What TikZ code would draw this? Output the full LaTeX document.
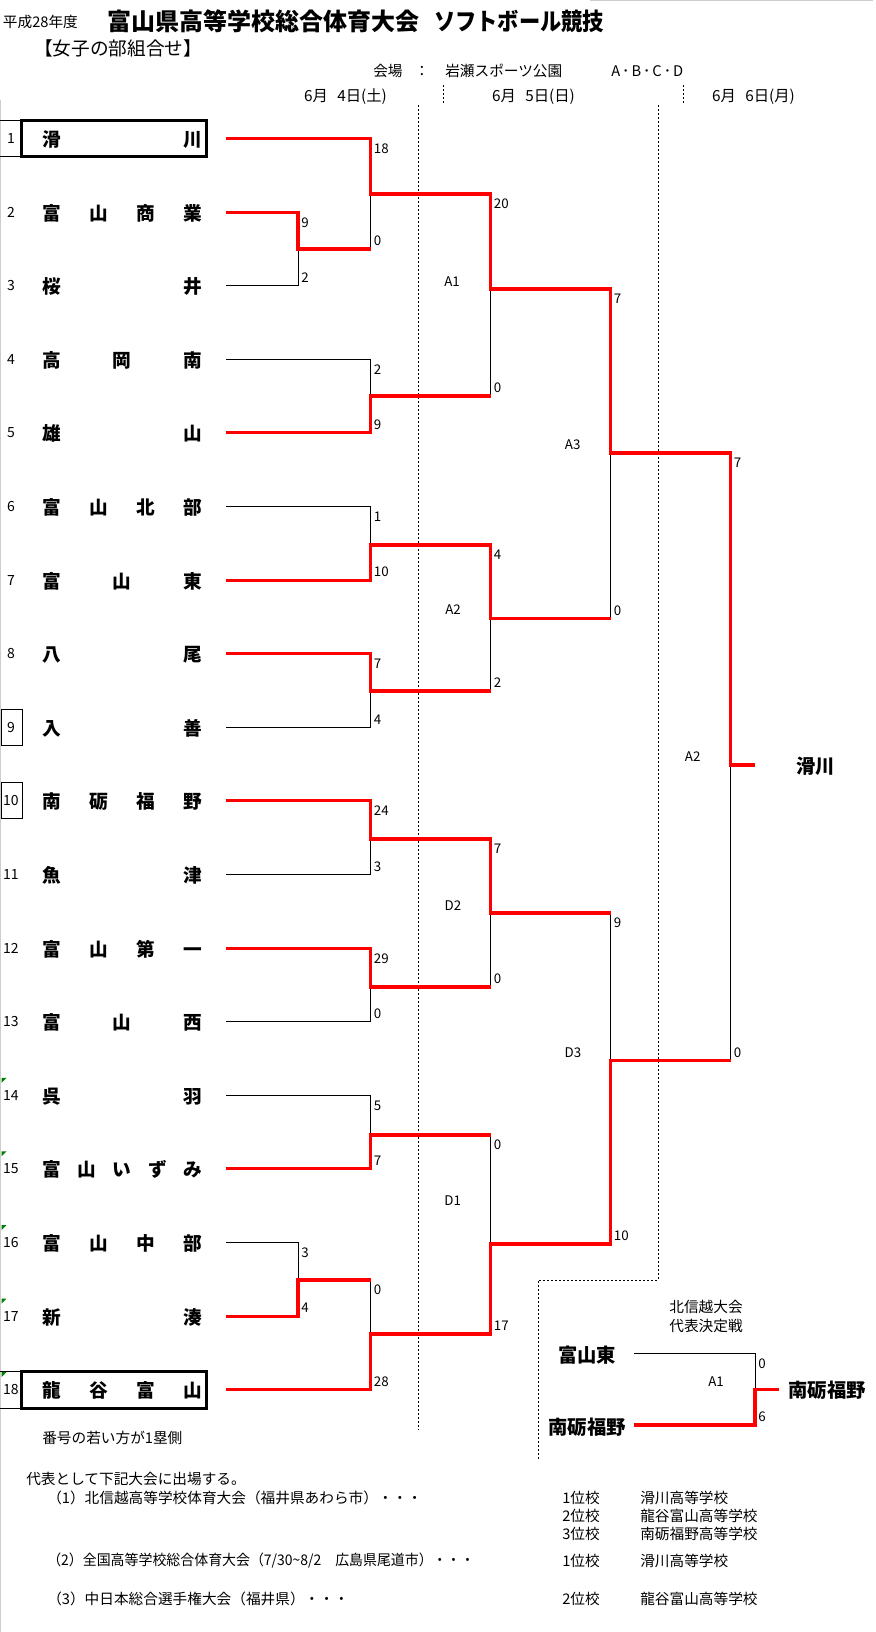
\documentclass[tikz,border=0pt]{standalone}
\usepackage{fontspec}
\setmainfont{Noto Sans CJK JP}
\definecolor{winred}{RGB}{255,0,0}
\definecolor{xlgreen}{RGB}{0,128,0}
\definecolor{edgegray}{RGB}{205,205,205}
\begin{document}
\begin{tikzpicture}[x=0.75pt,y=-0.75pt,
  lose/.style={line width=0.75pt,black},
  win/.style={line width=2.35pt,winred,line join=miter},
  dotline/.style={line width=0.75pt,dash pattern=on 1.5pt off 1.5pt},
  sc/.style={font=\fontsize{10}{12}\selectfont,inner sep=0pt},
  sctop/.style={sc,anchor=north west},
  scbot/.style={sc,anchor=south west},
  mlabel/.style={font=\fontsize{10}{12}\selectfont,inner sep=0pt},
  num/.style={font=\fontsize{10.5}{12}\selectfont,inner sep=0pt},
  tname/.style={font=\bfseries\fontsize{14}{16}\selectfont,inner sep=0pt,anchor=base west},
  bigname/.style={font=\bfseries\fontsize{14.5}{16}\selectfont,inner sep=0pt},
  small/.style={font=\fontsize{11}{13}\selectfont,inner sep=0pt,anchor=west},
  datefont/.style={font=\fontsize{11.5}{13}\selectfont,inner sep=0pt},
]
\useasboundingbox (0,0) rectangle (875,1632);
% sheet edges
\draw[edgegray,line width=1.1pt] (0.75,100) -- (0.75,1632);
\draw[edgegray,line width=0.75pt] (590,0.5) -- (873,0.5);

% ---------- header ----------
\node[small] (era) at (2.7,21.5) {平成28年度};
\node[font=\bfseries\fontsize{18}{20}\selectfont,inner sep=0pt,anchor=west] (title) at (107,21) {富山県高等学校総合体育大会};
\node[font=\bfseries\fontsize{18}{20}\selectfont,inner sep=0pt,anchor=west] (sport) at (434,21) {\scalebox{0.885}[1]{ソフトボール競技}};
\node[font=\fontsize{14}{16}\selectfont,inner sep=0pt,anchor=west] (div) at (34,48) {【女子の部組合せ】};
\node[small] (venue) at (373,71) {会場};
\node[font=\fontsize{11}{13}\selectfont,inner sep=0pt] (colon) at (422,71) {：};
\node[small] (park) at (445,71) {岩瀬スポーツ公園};
\node[small] (courts) at (611,71) {A\kern1.5pt･\kern1.5pt B\kern1.5pt･\kern1.5pt C\kern1.5pt･\kern1.5pt D};
\node[datefont] (day1) at (345.5,96.5) {6月\hspace{0.6em}4日(土)};
\node[datefont] (day2) at (533.5,96.5) {6月\hspace{0.6em}5日(日)};
\node[datefont] (day3) at (753.5,96.5) {6月\hspace{0.6em}6日(月)};
\draw[dotline] (443,85) -- (443,104);
\draw[dotline] (683,85) -- (683,104);
\draw[dotline] (418,105) -- (418,1430);
\draw[dotline] (658,105) -- (658,1280) -- (538,1280) -- (538,1459);

% ---------- teams ----------
\foreach \i/\y/\t in {
 1/138.5/滑\hfill 川,
 2/212.1/富\hfill 山\hfill 商\hfill 業,
 3/285.7/桜\hfill 井,
 4/359.3/高\hfill 岡\hfill 南,
 5/432.9/雄\hfill 山,
 6/506.5/富\hfill 山\hfill 北\hfill 部,
 7/580.1/富\hfill 山\hfill 東,
 8/653.7/八\hfill 尾,
 9/727.3/入\hfill 善,
 10/800.9/南\hfill 砺\hfill 福\hfill 野,
 11/874.5/魚\hfill 津,
 12/948.1/富\hfill 山\hfill 第\hfill 一,
 13/1021.7/富\hfill 山\hfill 西,
 14/1095.3/呉\hfill 羽,
 15/1168.9/富\hfill 山\hfill い\hfill ず\hfill み,
 16/1242.5/富\hfill 山\hfill 中\hfill 部,
 17/1316.1/新\hfill 湊,
 18/1389.7/龍\hfill 谷\hfill 富\hfill 山}{
  \node[num] (no\i) at (11,\y) {\i};
  \node[tname] (t\i) at (41.75,\y+8) {\makebox[120pt][s]{\t}};
  \coordinate (s\i) at (226,\y);
}
% seeded boxes
\draw[line width=2.25pt] (21.7,120.2) rectangle (206.7,156.8);
\draw[lose] (0,120.2) -- (21.7,120.2) (0,156.8) -- (21.7,156.8);
\draw[line width=2.25pt] (21.7,1371.4) rectangle (206.7,1408);
\draw[lose] (0,1371.4) -- (21.7,1371.4) (0,1408) -- (21.7,1408);
\draw[lose] (1,709.3) rectangle (22,745.3);
\draw[lose] (1,782.9) rectangle (22,818.9);
\foreach \y in {1095.3,1168.9,1242.5,1316.1,1389.7}{
  \fill[xlgreen] (1.5,\y-17.5) -- (6.5,\y-17.5) -- (1.5,\y-12.5) -- cycle;
}

% ---------- junctions ----------
\coordinate (j23) at (298,249);
\coordinate (j1617) at (298,1280);
\coordinate (m1) at (370.7,194);
\coordinate (m45) at (370.7,396);
\coordinate (m67) at (370.7,545);
\coordinate (m89) at (370.7,691);
\coordinate (m1011) at (370.7,839);
\coordinate (m1213) at (370.7,987);
\coordinate (m1415) at (370.7,1135);
\coordinate (m18) at (370.7,1334);
\coordinate (a1) at (490.7,289);
\coordinate (a2) at (490.7,618.5);
\coordinate (d2) at (490.7,913);
\coordinate (d1) at (490.7,1244);
\coordinate (a3) at (610.7,453);
\coordinate (d3) at (610.7,1060.7);
\coordinate (fin) at (730.7,765);
\coordinate (wend) at (754.7,765);

% losers (black)
\draw[lose] (s3) -| (j23);
\draw[lose] (m1) -- (j23 -| m1);
\draw[lose] (s4) -| (m45);
\draw[lose] (a1) -- (m45 -| a1);
\draw[lose] (s6) -| (m67);
\draw[lose] (s9) -| (m89);
\draw[lose] (a2) -- (m89 -| a2);
\draw[lose] (a3) -- (a2 -| a3);
\draw[lose] (s11) -| (m1011);
\draw[lose] (s13) -| (m1213);
\draw[lose] (d2) -- (m1213 -| d2);
\draw[lose] (s14) -| (m1415);
\draw[lose] (s16) -| (j1617);
\draw[lose] (m18) -- (j1617 -| m18);
\draw[lose] (d1) -- (m1415 -| d1);
\draw[lose] (d3) -- (d2 -| d3);
\draw[lose] (fin) -- (d3 -| fin);

% winners (red)
\draw[win] (s1) -| (m1) -| (a1) -| (a3) -| (fin) -- (wend);
\draw[win] (s2) -| (j23) -- (j23 -| m1);
\draw[win] (s5) -| (m45) -- (m45 -| a1);
\draw[win] (s7) -| (m67) -| (a2) -- (a2 -| a3);
\draw[win] (s8) -| (m89) -- (m89 -| a2);
\draw[win] (s10) -| (m1011) -| (d2) -- (d2 -| d3);
\draw[win] (s12) -| (m1213) -- (m1213 -| d2);
\draw[win] (s15) -| (m1415) -- (m1415 -| d1);
\draw[win] (s17) -| (j1617) -- (j1617 -| m18);
\draw[win] (s18) -| (m18) -| (d1) -| (d3) -- (d3 -| fin);

% scores
\node[sctop] (c1) at (301,217.1) {9};
\node[scbot] (c2) at (301,282.7) {2};
\node[sctop] (c3) at (301,1247.5) {3};
\node[scbot] (c4) at (301,1313.1) {4};
\node[sctop] (c5) at (373.7,143.5) {18};
\node[scbot] (c6) at (373.7,246) {0};
\node[sctop] (c7) at (373.7,364.3) {2};
\node[scbot] (c8) at (373.7,429.9) {9};
\node[sctop] (c9) at (373.7,511.5) {1};
\node[scbot] (c10) at (373.7,577.1) {10};
\node[sctop] (c11) at (373.7,658.7) {7};
\node[scbot] (c12) at (373.7,724.3) {4};
\node[sctop] (c13) at (373.7,805.9) {24};
\node[scbot] (c14) at (373.7,871.5) {3};
\node[sctop] (c15) at (373.7,953.1) {29};
\node[scbot] (c16) at (373.7,1018.7) {0};
\node[sctop] (c17) at (373.7,1100.3) {5};
\node[scbot] (c18) at (373.7,1165.9) {7};
\node[sctop] (c19) at (373.7,1285) {0};
\node[scbot] (c20) at (373.7,1386.7) {28};
\node[sctop] (c21) at (493.7,199) {20};
\node[scbot] (c22) at (493.7,393) {0};
\node[sctop] (c23) at (493.7,550) {4};
\node[scbot] (c24) at (493.7,688) {2};
\node[sctop] (c25) at (493.7,844) {7};
\node[scbot] (c26) at (493.7,984) {0};
\node[sctop] (c27) at (493.7,1140) {0};
\node[scbot] (c28) at (493.7,1331) {17};
\node[sctop] (c29) at (613.7,294) {7};
\node[scbot] (c30) at (613.7,615.5) {0};
\node[sctop] (c31) at (613.7,918) {9};
\node[scbot] (c32) at (613.7,1241) {10};
\node[sctop] (c33) at (733.7,458) {7};
\node[scbot] (c34) at (733.7,1057.7) {0};

% match labels
\node[mlabel] (lA1) at (452,282) {A1};
\node[mlabel] (lA2) at (453,610) {A2};
\node[mlabel] (lD2) at (453,905.6) {D2};
\node[mlabel] (lD1) at (452.7,1201) {D1};
\node[mlabel] (lA3) at (572.7,445) {A3};
\node[mlabel] (lD3) at (573,1052.7) {D3};
\node[mlabel] (lF) at (692.7,756.7) {A2};
\node[bigname] (champ) at (815.5,766.7) {滑川};

% ---------- Hokushinetsu play-off ----------
\node[font=\fontsize{11}{13}\selectfont,inner sep=0pt] (hk1) at (706,1307) {北信越大会};
\node[font=\fontsize{11}{13}\selectfont,inner sep=0pt] (hk2) at (706,1326) {代表決定戦};
\node[bigname] (pe1) at (587,1355) {富山東};
\node[bigname] (pe2) at (587,1426.7) {南砺福野};
\node[bigname] (pw) at (827.3,1390) {南砺福野};
\coordinate (pa) at (634,1353.3);
\coordinate (pb) at (634,1425);
\coordinate (pj) at (755,1389.3);
\coordinate (pwe) at (779.3,1389.3);
\draw[lose] (pa) -| (pj);
\draw[win] (pb) -| (pj) -- (pwe);
\node[sctop] (pc1) at (758,1358.3) {0};
\node[scbot] (pc2) at (758,1422) {6};
\node[mlabel] (pA1) at (716,1381.7) {A1};

% ---------- notes ----------
\node[small] (note) at (42,1437.5) {番号の若い方が1塁側};
\node[small] (rep) at (26,1479) {代表として下記大会に出場する。};
\node[small] (e1) at (47,1498) {（1）北信越高等学校体育大会（福井県あわら市）・・・};
\node[small] (e1a) at (562,1498) {1位校};
\node[small] (e1b) at (640,1498) {滑川高等学校};
\node[small] (e1c) at (562,1516) {2位校};
\node[small] (e1d) at (640,1516) {龍谷富山高等学校};
\node[small] (e1e) at (562,1534) {3位校};
\node[small] (e1f) at (640,1534) {南砺福野高等学校};
\node[small] (e2) at (47,1560.5) {\scalebox{0.95}[1]{（2）全国高等学校総合体育大会（7/30\textasciitilde 8/2　広島県尾道市）・・・}};
\node[small] (e2a) at (562,1560.5) {1位校};
\node[small] (e2b) at (640,1560.5) {滑川高等学校};
\node[small] (e3) at (47,1599) {（3）中日本総合選手権大会（福井県）・・・};
\node[small] (e3a) at (562,1599) {2位校};
\node[small] (e3b) at (640,1599) {龍谷富山高等学校};
\end{tikzpicture}
\end{document}
